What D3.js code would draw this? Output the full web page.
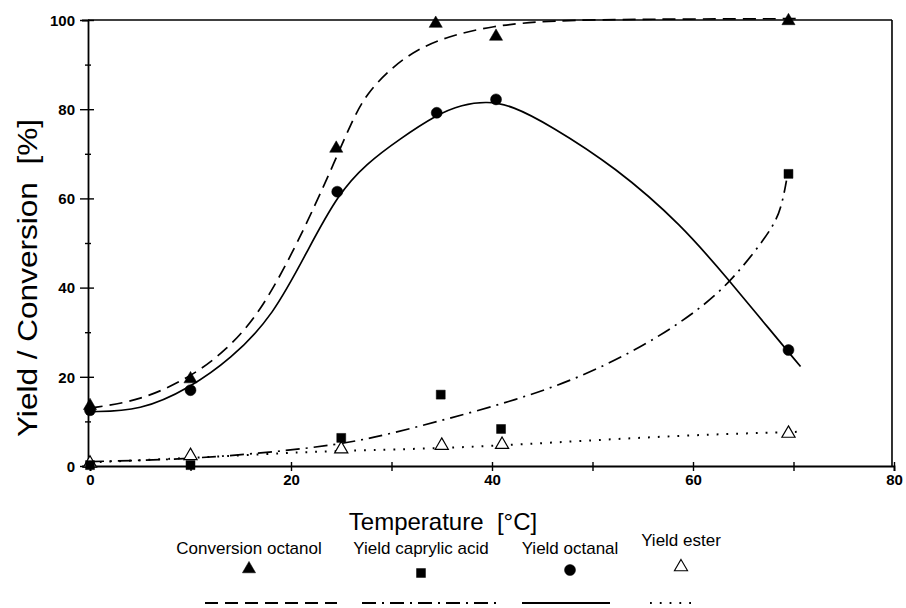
<!DOCTYPE html>
<html><head><meta charset="utf-8">
<script src="https://cdn.jsdelivr.net/npm/d3@7"></script>
<style>body{margin:0;background:#fff}svg{display:block}text{font-family:"Liberation Sans",Arial,sans-serif;fill:#000;white-space:pre}</style>
</head><body>
<script>
// Measured points: [temperature °C, value %]
const conversionOctanol = [[0,13.5],[10,19.5],[24.5,71.2],[34.4,99.2],[40.4,96.3],[69.5,99.8]];
const yieldCaprylic    = [[0,0.2],[10,0.2],[25,6.3],[34.9,16],[40.9,8.3],[69.5,65.5]];
const yieldOctanal     = [[0,12.5],[10,17],[24.6,61.5],[34.5,79.2],[40.4,82.2],[69.5,26]];
const yieldEster       = [[0,0.6],[10,2.3],[25,3.8],[35,4.6],[41,4.8],[69.5,7.3]];
// Fitted curves
const fitConversion = [[0,13],[5,14.6],[10,19.9],[13.6,26],[16.9,34.3],[20.2,48],[22.5,59],[24.2,67.5],[26,77],[27.5,83.5],[30.1,89.5],[32.5,93.3],[35.4,96.2],[40,98.7],[45.7,99.9],[55,100.2],[70.5,100.3]];
const fitOctanal    = [[0,12.2],[5,12.3],[10,17.6],[14,24],[18.2,33.5],[21.8,49],[24.7,61],[27.5,67.8],[30.8,73.3],[34.5,78.8],[37,81],[39.5,81.8],[42,80.8],[45.7,76.5],[52.3,67],[58.9,54],[63.7,41.3],[67,32.3],[70.7,22.3]];
const fitCaprylic   = [[0,1],[10,1.5],[20,3.5],[25.8,5.2],[30,7.3],[35.5,10.5],[42.4,14.8],[49,20],[55.6,27.5],[60.6,35],[63.7,41.3],[66.2,48.2],[68,53.8],[68.8,58],[69.3,64]];
const fitEster      = [[0,0.8],[10,1.8],[20,3],[25,3.4],[35.7,4],[45.7,5.2],[58.9,6.9],[71,7.7]];
const xTicks = [0,20,40,60,80];
const yTicks = [0,20,40,60,80,100];
const legendLabels = ["Conversion octanol","Yield caprylic acid","Yield octanal","Yield ester"];

const W=906,H=608;
const svg=d3.select("body").append("svg").attr("width",W).attr("height",H);
const x=d3.scaleLinear().domain([0,80]).range([90,894]);
const y=d3.scaleLinear().domain([0,100]).range([466,20]);
const k="#000";

// frame (top and right)
svg.append("line").attr("x1",x(0)-2).attr("x2",x(79.8)).attr("y1",y(100)).attr("y2",y(100)).attr("stroke",k).attr("stroke-width",1.6);
svg.append("line").attr("x1",x(79.8)).attr("x2",x(79.8)).attr("y1",y(100)).attr("y2",y(0)).attr("stroke",k).attr("stroke-width",1.6);

// axes
const xa=svg.append("g").attr("transform",`translate(0,${y(0)})`)
  .call(d3.axisBottom(x).tickValues(d3.range(0,81,10)).tickSize(5).tickFormat(""));
xa.select(".domain").attr("stroke-width",1.8);
xa.selectAll(".tick line").attr("y1",-4).attr("stroke-width",1.4);
xa.selectAll(".tick").filter(d=>d%20===0).append("text").attr("y",19).attr("text-anchor","middle")
  .style("font-size","15px").style("font-weight","bold").text(d=>xTicks.includes(d)?d:"");

const ya=svg.append("g").attr("transform",`translate(${x(0)-2},0)`)
  .call(d3.axisLeft(y).tickValues(d3.range(0,101,10)).tickSize(6).tickFormat(""));
ya.select(".domain").attr("stroke-width",1.8);
ya.selectAll(".tick line").attr("x1",d=>d%20===0?-8:-3).attr("x2",d=>d%20===0?6:3).attr("stroke-width",1.4);
ya.selectAll(".tick").filter(d=>d%20===0).append("text").attr("x",-13).attr("dy","0.35em").attr("text-anchor","end")
  .style("font-size","15px").style("font-weight","bold").text(d=>yTicks.includes(d)?d:"");

// axis titles
svg.append("text").attr("x",443).attr("y",530).attr("text-anchor","middle").style("font-size","24px").text("Temperature  [°C]");
svg.append("text").attr("transform",`translate(37,278) rotate(-90)`).attr("text-anchor","middle")
  .attr("textLength",318).attr("lengthAdjust","spacingAndGlyphs")
  .style("font-size","27px").text("Yield / Conversion  [%]");

// curves
const line=d3.line().x(d=>x(d[0])).y(d=>y(d[1])).curve(d3.curveBasis);
const styles=[
  {data:fitConversion,dash:"13,7"},
  {data:fitCaprylic,dash:"14,6,2,6"},
  {data:fitOctanal,dash:null},
  {data:fitEster,dash:"1.8,8"}
];
styles.forEach(s=>{
  svg.append("path").attr("d",line(s.data)).attr("fill","none").attr("stroke",k)
    .attr("stroke-width",s.dash==="1.8,8"?2:1.7).attr("stroke-dasharray",s.dash);
});

// markers
const tri=d3.symbol().type(d3.symbolTriangle).size(75);
const sq=d3.symbol().type(d3.symbolSquare).size(80);
const circ=d3.symbol().type(d3.symbolCircle).size(95);
function marks(data,gen,filled){
  svg.append("g").selectAll("path").data(data).join("path")
   .attr("transform",d=>`translate(${x(d[0])},${y(d[1])})`)
   .attr("d",gen()).attr("fill",filled?k:"#fff").attr("stroke",k).attr("stroke-width",filled?0.5:1.2);
}
marks(yieldEster,tri,false);
marks(yieldCaprylic,sq,true);
marks(yieldOctanal,circ,true);
marks(conversionOctanol,tri,true);

// legend
const lx=[249,421,570,681], ly=[554,554,554,546];
const symY=[569,573,570,567];
const gens=[tri,sq,circ,tri];
const fills=[true,true,true,false];
const sampX=[[205,337],[362,496],[522,610],[650,697]];
legendLabels.forEach((t,i)=>{
  svg.append("text").attr("x",lx[i]).attr("y",ly[i]).attr("text-anchor","middle").style("font-size","17px").text(t);
  svg.append("path").attr("transform",`translate(${lx[i]},${symY[i]})`).attr("d",gens[i]())
    .attr("fill",fills[i]?k:"#fff").attr("stroke",k).attr("stroke-width",fills[i]?0.5:1.1);
  svg.append("line").attr("x1",sampX[i][0]).attr("x2",sampX[i][1]).attr("y1",603).attr("y2",603)
    .attr("stroke",k).attr("stroke-width",i===3?2:1.8).attr("stroke-dasharray",styles[i].dash);
});
</script>
</body></html>
